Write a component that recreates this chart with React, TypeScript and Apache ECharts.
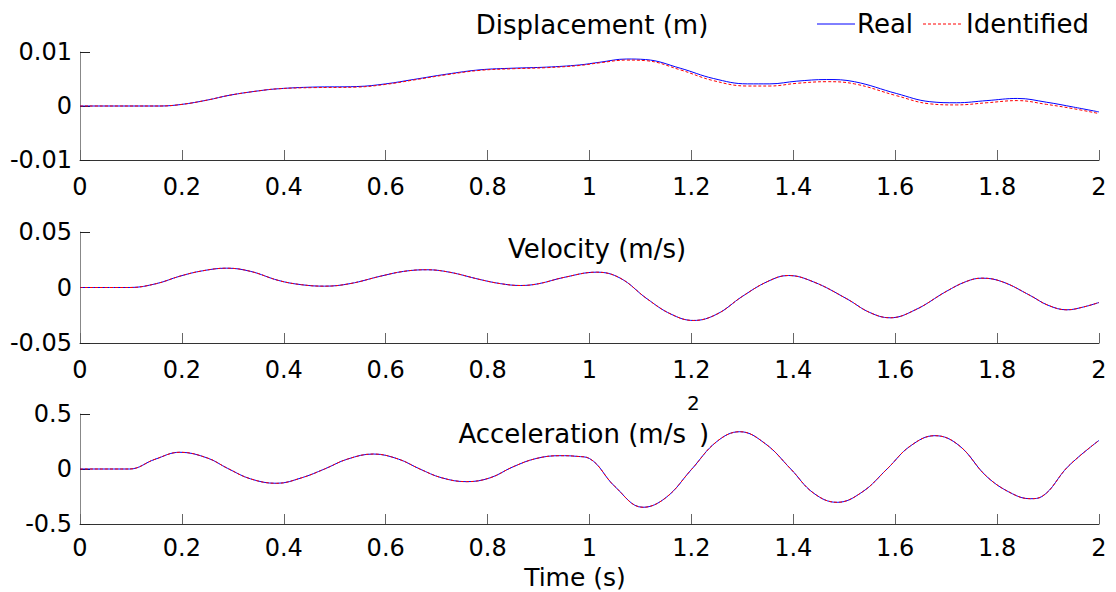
import React, { useEffect, useRef } from "react";
import * as echarts from "echarts";

// ---- data ----
// Displacement (m)
const dispTime = [
  0, 0.157, 0.2, 0.25, 0.294, 0.35, 0.39, 0.457, 0.543, 0.6, 0.654, 0.72, 0.785, 0.85, 0.916, 0.98, 1.02, 1.073,
  1.11, 1.178, 1.243, 1.31, 1.354, 1.407, 1.465, 1.52, 1.603, 1.668, 1.72, 1.78, 1.84, 1.897, 1.95, 2.0,
];
const dispReal = [
  0, 0, 0.0003, 0.0011, 0.002, 0.0028, 0.0032, 0.0035, 0.0036, 0.0041, 0.0049, 0.0059, 0.0067, 0.007, 0.0072,
  0.0076, 0.0081, 0.0087, 0.0086, 0.007, 0.0051, 0.0041, 0.0041, 0.0046, 0.0049, 0.0045, 0.0023, 0.0008, 0.0006,
  0.001, 0.0014, 0.0007, -0.0002, -0.0011,
];
const dispIdentified = [
  0, 0, 0.0003, 0.0011, 0.002, 0.0028, 0.0032, 0.0034, 0.0035, 0.004, 0.0048, 0.0058, 0.0066, 0.0069, 0.0071,
  0.0075, 0.008, 0.0085, 0.0084, 0.0067, 0.0047, 0.0037, 0.0037, 0.0042, 0.0045, 0.0041, 0.0019, 0.0004, 0.0002,
  0.0006, 0.001, 0.0003, -0.0005, -0.0014,
];

// Velocity (m/s)
const velTime = [
  0, 0.098, 0.15, 0.196, 0.24, 0.288, 0.335, 0.39, 0.435, 0.48, 0.53, 0.59, 0.635, 0.68, 0.725, 0.785, 0.825, 0.864,
  0.9, 0.95, 1.014, 1.06, 1.113, 1.16, 1.204, 1.25, 1.3, 1.35, 1.39, 1.44, 1.505, 1.55, 1.59, 1.64, 1.7, 1.74, 1.77,
  1.81, 1.865, 1.9, 1.937, 1.97, 2.0,
];
const velReal = [
  0, 0, 0.0035, 0.0102, 0.015, 0.0174, 0.0145, 0.0063, 0.0025, 0.0012, 0.0035, 0.0102, 0.0145, 0.016, 0.0138,
  0.0072, 0.0035, 0.0018, 0.0034, 0.0091, 0.0138, 0.0085, -0.0102, -0.024, -0.0297, -0.024, -0.008, 0.0055, 0.0108,
  0.005, -0.0102, -0.0225, -0.0273, -0.02, -0.0036, 0.0055, 0.0084, 0.0052, -0.0072, -0.016, -0.0201, -0.0175,
  -0.0135,
];
const velIdentified = [
  0, 0, 0.0035, 0.0102, 0.015, 0.0174, 0.0145, 0.0063, 0.0025, 0.0012, 0.0035, 0.0102, 0.0145, 0.016, 0.0138,
  0.0072, 0.0035, 0.0018, 0.0034, 0.0091, 0.0138, 0.0085, -0.0102, -0.024, -0.0297, -0.024, -0.008, 0.0055, 0.0108,
  0.005, -0.0102, -0.0225, -0.0273, -0.02, -0.0036, 0.0055, 0.0084, 0.0052, -0.0072, -0.016, -0.0201, -0.0175,
  -0.0135,
];

// Acceleration (m/s^2)
const accTime = [
  0, 0.097, 0.147, 0.196, 0.25, 0.29, 0.335, 0.386, 0.435, 0.48, 0.525, 0.576, 0.625, 0.667, 0.71, 0.759, 0.805,
  0.85, 0.895, 0.942, 0.975, 1.0, 1.05, 1.105, 1.15, 1.2, 1.25, 1.295, 1.345, 1.395, 1.44, 1.486, 1.535, 1.584, 1.63,
  1.678, 1.725, 1.78, 1.83, 1.865, 1.888, 1.94, 2.0,
];
const accReal = [
  0, 0, 0.088, 0.152, 0.1, 0.005, -0.09, -0.13, -0.08, 0.0, 0.09, 0.136, 0.09, 0.0, -0.08, -0.115, -0.08, 0.02,
  0.095, 0.121, 0.115, 0.095, -0.16, -0.348, -0.26, -0.005, 0.25, 0.339, 0.23, 0.0, -0.22, -0.303, -0.21, 0.0, 0.21,
  0.303, 0.215, -0.07, -0.225, -0.27, -0.25, 0.026, 0.26,
];
const accIdentified = [
  0, 0, 0.088, 0.152, 0.1, 0.005, -0.09, -0.13, -0.08, 0.0, 0.09, 0.136, 0.09, 0.0, -0.08, -0.115, -0.08, 0.02,
  0.095, 0.121, 0.115, 0.095, -0.16, -0.348, -0.26, -0.005, 0.25, 0.339, 0.23, 0.0, -0.22, -0.303, -0.21, 0.0, 0.21,
  0.303, 0.215, -0.07, -0.225, -0.27, -0.25, 0.026, 0.26,
];

const xTicks = { min: 0, max: 2, interval: 0.2 };
const yRanges = [
  { min: -0.01, max: 0.01, interval: 0.01 },
  { min: -0.05, max: 0.05, interval: 0.05 },
  { min: -0.5, max: 0.5, interval: 0.5 },
];
const seriesNames = ["Real", "Identified"];
const titles = ["Displacement (m)", "Velocity (m/s)", "Acceleration (m/s", "2", ")"];
const xTitle = "Time (s)";

const FONT = '"DejaVu Sans", sans-serif';
const BLUE = "#0000ff";
const RED = "#ff0000";

export default function App() {
  const ref = useRef<HTMLDivElement>(null);

  useEffect(() => {
    if (!ref.current) return;
    const chart = echarts.init(ref.current, undefined, { renderer: "svg" });

    const grids = [
      { left: 80, width: 1019, top: 52, height: 108 },
      { left: 80, width: 1019, top: 232, height: 111 },
      { left: 80, width: 1019, top: 414, height: 110 },
    ];
    const labelMargins = [15, 15, 12];

    const xAxes = grids.map((_, i) => ({
      type: "value",
      gridIndex: i,
      min: xTicks.min,
      max: xTicks.max,
      interval: xTicks.interval,
      axisLine: { onZero: false, lineStyle: { color: "#333", width: 1 } },
      axisTick: { inside: true, length: 10, lineStyle: { color: "#666" } },
      axisLabel: {
        fontSize: 24,
        fontFamily: FONT,
        color: "#000",
        margin: labelMargins[i],
        formatter: (v: number) => String(parseFloat(v.toFixed(1))),
      },
      splitLine: { show: false },
    }));

    const yAxes = yRanges.map((r, i) => ({
      type: "value",
      gridIndex: i,
      min: r.min,
      max: r.max,
      interval: r.interval,
      axisLine: { show: true, onZero: false, lineStyle: { color: "#888", width: 1 } },
      axisTick: { show: true, inside: true, length: 10, lineStyle: { color: "#222" } },
      axisLabel: {
        fontSize: 24,
        fontFamily: FONT,
        color: "#000",
        margin: 8,
        padding: [10, 0, 0, 0],
        formatter: (v: number) => String(parseFloat(v.toFixed(3))),
      },
      splitLine: { show: false },
    }));

    const pairs = (xs: number[], ys: number[]) => xs.map((x, k) => [x, ys[k]]);
    const panels: [number[], number[], number[]][] = [
      [dispTime, dispReal, dispIdentified],
      [velTime, velReal, velIdentified],
      [accTime, accReal, accIdentified],
    ];
    const series: any[] = [];
    panels.forEach(([xs, real, ident], i) => {
      series.push({
        name: seriesNames[0],
        type: "line",
        xAxisIndex: i,
        yAxisIndex: i,
        data: pairs(xs, real),
        symbol: "none",
        showSymbol: false,
        smooth: 0.4,
        lineStyle: { color: BLUE, width: 1 },
        itemStyle: { color: BLUE },
      });
      series.push({
        name: seriesNames[1],
        type: "line",
        xAxisIndex: i,
        yAxisIndex: i,
        data: pairs(xs, ident),
        symbol: "none",
        showSymbol: false,
        smooth: 0.4,
        lineStyle: { color: RED, width: 1, type: [3, 2] },
        itemStyle: { color: RED },
      });
    });

    const txt = (text: string, x: number, y: number, size: number, align = "center") => ({
      type: "text",
      x,
      y,
      silent: true,
      style: { text, fontSize: size, fontFamily: FONT, fill: "#000", align, verticalAlign: "middle" },
    });

    chart.setOption({
      animation: false,
      backgroundColor: "#fff",
      grid: grids,
      xAxis: xAxes,
      yAxis: yAxes,
      graphic: [
        txt(titles[0], 592, 25, 26),
        txt(titles[1], 597, 249, 26),
        txt(titles[2], 686, 434, 26, "right"),
        txt(titles[3], 687, 403, 20, "left"),
        txt(titles[4], 699, 434, 26, "left"),
        txt(xTitle, 575, 577, 25),
        // legend
        {
          type: "line",
          silent: true,
          shape: { x1: 817, y1: 24, x2: 855, y2: 24 },
          style: { stroke: BLUE, lineWidth: 1 },
        },
        txt(seriesNames[0], 857, 24, 26, "left"),
        {
          type: "line",
          silent: true,
          shape: { x1: 923, y1: 24, x2: 962, y2: 24 },
          style: { stroke: RED, lineWidth: 1, lineDash: [3, 2] },
        },
        txt(seriesNames[1], 966, 24, 26, "left"),
      ],
      series,
    });

    return () => chart.dispose();
  }, []);

  return (
    <div
      ref={ref}
      style={{ position: "fixed", left: 0, top: 0, width: 1116, height: 592, background: "#fff" }}
    />
  );
}
